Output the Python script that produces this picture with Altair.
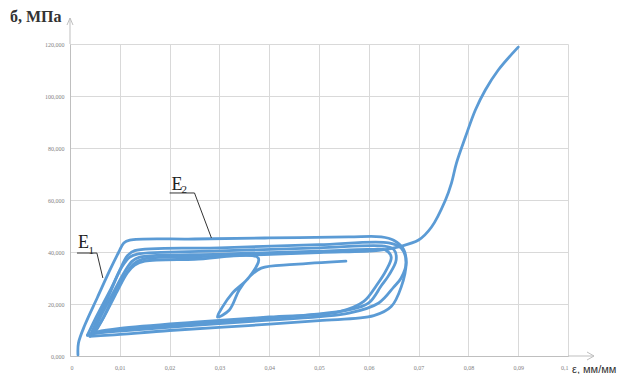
import altair as alt
import pandas as pd

# ---- data (strain, stress MPa) ----
c1_x = [0.0016, 0.0017, 0.0030, 0.0055, 0.0080, 0.0098, 0.0108, 0.0120, 0.0250, 0.0400, 0.0560, 0.0625, 0.0650, 0.0670, 0.0675, 0.0665, 0.0645, 0.0610, 0.0500, 0.0350, 0.0200, 0.0080, 0.0040]
c1_y = [0.4, 5.0, 12.0, 22.5, 33.0, 40.0, 43.5, 44.6, 45.0, 45.4, 45.8, 45.8, 44.5, 41.0, 36.0, 26.5, 19.0, 15.5, 13.6, 11.6, 9.8, 8.0, 7.6]

c2_x = [0.0040, 0.0050, 0.0075, 0.0100, 0.0115, 0.0130, 0.0300, 0.0500, 0.0640, 0.0665, 0.0675, 0.0665, 0.0650, 0.0620, 0.0560, 0.0400, 0.0250, 0.0100, 0.0050, 0.0035]
c2_y = [7.6, 12.0, 22.0, 33.0, 38.5, 40.5, 41.6, 42.8, 43.5, 41.5, 36.0, 30.0, 26.5, 20.4, 16.5, 13.8, 11.8, 9.6, 8.8, 8.0]

c3_x = [0.0035, 0.0050, 0.0080, 0.0105, 0.0120, 0.0135, 0.0300, 0.0500, 0.0630, 0.0650, 0.0655, 0.0640, 0.0625, 0.0600, 0.0560, 0.0400, 0.0250, 0.0100, 0.0060, 0.0045]
c3_y = [8.0, 14.0, 25.0, 34.5, 38.0, 39.2, 40.4, 41.6, 42.3, 41.0, 37.0, 31.0, 27.0, 20.4, 17.7, 14.5, 12.3, 10.0, 9.0, 8.5]

c4_x = [0.0045, 0.0060, 0.0090, 0.0110, 0.0125, 0.0140, 0.0300, 0.0500, 0.0600, 0.0635, 0.0645, 0.0635, 0.0615, 0.0590, 0.0540, 0.0400, 0.0250, 0.0100, 0.0055, 0.0050]
c4_y = [8.5, 14.5, 25.5, 32.5, 36.5, 38.0, 39.2, 40.3, 41.0, 40.6, 38.0, 33.0, 27.0, 21.0, 17.0, 15.0, 13.0, 10.6, 9.3, 9.0]

c5_x = [0.0050, 0.0065, 0.0090, 0.0112, 0.0128, 0.0145, 0.0300, 0.0500, 0.0620, 0.0660, 0.0700, 0.0726, 0.0754, 0.0766, 0.0776, 0.0794, 0.0814, 0.0834, 0.0860, 0.0900]
c5_y = [9.0, 14.0, 24.0, 31.5, 35.5, 37.2, 38.4, 39.8, 40.6, 42.0, 44.6, 49.6, 60.0, 66.5, 74.2, 84.2, 94.6, 102.3, 110.0, 118.8]

c6_x = [0.0050, 0.0068, 0.0095, 0.0115, 0.0130, 0.0150, 0.0250, 0.0378, 0.0360, 0.0326, 0.0305, 0.0296, 0.0320, 0.0340, 0.0360, 0.0384, 0.0450, 0.0554]
c6_y = [9.5, 15.0, 25.0, 32.0, 35.0, 36.5, 37.2, 37.7, 30.4, 24.2, 18.5, 15.0, 17.7, 25.5, 30.4, 33.8, 35.2, 36.5]

x_ticks = [0, 0.01, 0.02, 0.03, 0.04, 0.05, 0.06, 0.07, 0.08, 0.09, 0.1]
y_ticks = [0, 20, 40, 60, 80, 100, 120]

# annotations (data coordinates)
e1_lead_x = [0.0014, 0.0054, 0.0066]
e1_lead_y = [39.6, 39.6, 30.0]
e2_lead_x = [0.0200, 0.0250, 0.0284]
e2_lead_y = [62.7, 62.7, 45.4]
e_main = pd.DataFrame({"x": [0.0016, 0.0204], "y": [41.5, 63.8], "t": ["E", "E"]})
e_sub = pd.DataFrame({"x": [0.0037, 0.0224], "y": [39.4, 62.6], "t": ["1", "2"]})

rows = []
for name, xs_, ys_ in [("c1", c1_x, c1_y), ("c2", c2_x, c2_y), ("c3", c3_x, c3_y),
                       ("c4", c4_x, c4_y), ("c5", c5_x, c5_y), ("c6", c6_x, c6_y)]:
    for i, (a, b) in enumerate(zip(xs_, ys_)):
        rows.append({"s": name, "i": i, "x": a, "y": b})
df = pd.DataFrame(rows)

lead_rows = []
for name, xs_, ys_ in [("e1", e1_lead_x, e1_lead_y), ("e2", e2_lead_x, e2_lead_y)]:
    for i, (a, b) in enumerate(zip(xs_, ys_)):
        lead_rows.append({"s": name, "i": i, "x": a, "y": b})
lead = pd.DataFrame(lead_rows)

one = pd.DataFrame({"k": [0]})

xs = alt.Scale(domain=[0, 0.1], nice=False)
ys = alt.Scale(domain=[0, 120], nice=False)

xaxis = alt.Axis(values=x_ticks, labelExpr="replace(format(datum.value, '.2~f'), '.', ',')",
                 grid=True, ticks=False, title=None, labelPadding=8)
yaxis = alt.Axis(values=y_ticks, labelExpr="replace(format(datum.value, '.3f'), '.', ',')",
                 grid=True, ticks=False, title=None, labelPadding=6)

curves = alt.Chart(df).mark_line(color="#5B9BD5", strokeWidth=2.8, strokeJoin="round",
                                 strokeCap="round", interpolate="catmull-rom").encode(
    x=alt.X("x:Q", scale=xs, axis=xaxis),
    y=alt.Y("y:Q", scale=ys, axis=yaxis),
    detail="s:N",
    order="i:Q",
)

leaders = alt.Chart(lead).mark_line(color="#333333", strokeWidth=1).encode(
    x=alt.X("x:Q", scale=xs), y=alt.Y("y:Q", scale=ys), detail="s:N", order="i:Q")

etext = alt.Chart(e_main).mark_text(font="Liberation Serif", fontSize=18, align="left", baseline="alphabetic", color="#222222").encode(
    x=alt.X("x:Q", scale=xs), y=alt.Y("y:Q", scale=ys), text="t:N")
esub = alt.Chart(e_sub).mark_text(font="Liberation Serif", fontSize=11, align="left", baseline="alphabetic", color="#222222").encode(
    x=alt.X("x:Q", scale=xs), y=alt.Y("y:Q", scale=ys), text="t:N")

rule_style = dict(color="#bfbfbf", strokeWidth=1)
yline = alt.Chart(one).mark_rule(**rule_style).encode(x=alt.value(0), y=alt.value(0), y2=alt.value(-26))
yarrow1 = alt.Chart(one).mark_rule(**rule_style).encode(x=alt.value(0), x2=alt.value(-3), y=alt.value(-26), y2=alt.value(-19))
yarrow2 = alt.Chart(one).mark_rule(**rule_style).encode(x=alt.value(0), x2=alt.value(3), y=alt.value(-26), y2=alt.value(-19))
xline = alt.Chart(one).mark_rule(**rule_style).encode(x=alt.value(498), x2=alt.value(524), y=alt.value(312))
xarrow1 = alt.Chart(one).mark_rule(**rule_style).encode(x=alt.value(524), x2=alt.value(517), y=alt.value(312), y2=alt.value(308))
xarrow2 = alt.Chart(one).mark_rule(**rule_style).encode(x=alt.value(524), x2=alt.value(517), y=alt.value(312), y2=alt.value(316))

ytitle = alt.Chart(one).mark_text(text="б, МПа", font="Liberation Serif", fontSize=16, fontWeight="bold",
                                  align="left", baseline="alphabetic", color="#333333").encode(
    x=alt.value(-60), y=alt.value(-22))
xtitle = alt.Chart(one).mark_text(text="ε, мм/мм", font="Liberation Sans", fontSize=11,
                                  align="left", baseline="alphabetic", color="#333333").encode(
    x=alt.value(502), y=alt.value(329))

chart = alt.layer(curves, leaders, etext, esub, yline, yarrow1, yarrow2, xline, xarrow1, xarrow2,
                  ytitle, xtitle).properties(
    width=498, height=312,
    autosize=alt.AutoSizeParams(type="none"),
    padding={"left": 62, "top": 36, "right": 56, "bottom": 18},
).configure_view(stroke=None).configure_axis(
    gridColor="#d9d9d9", domainColor="#bfbfbf", labelFontSize=6, labelColor="#7f7f7f",
    labelFont="Liberation Serif"
)

chart.save("out.html", embed_options={"renderer": "svg", "actions": False})
